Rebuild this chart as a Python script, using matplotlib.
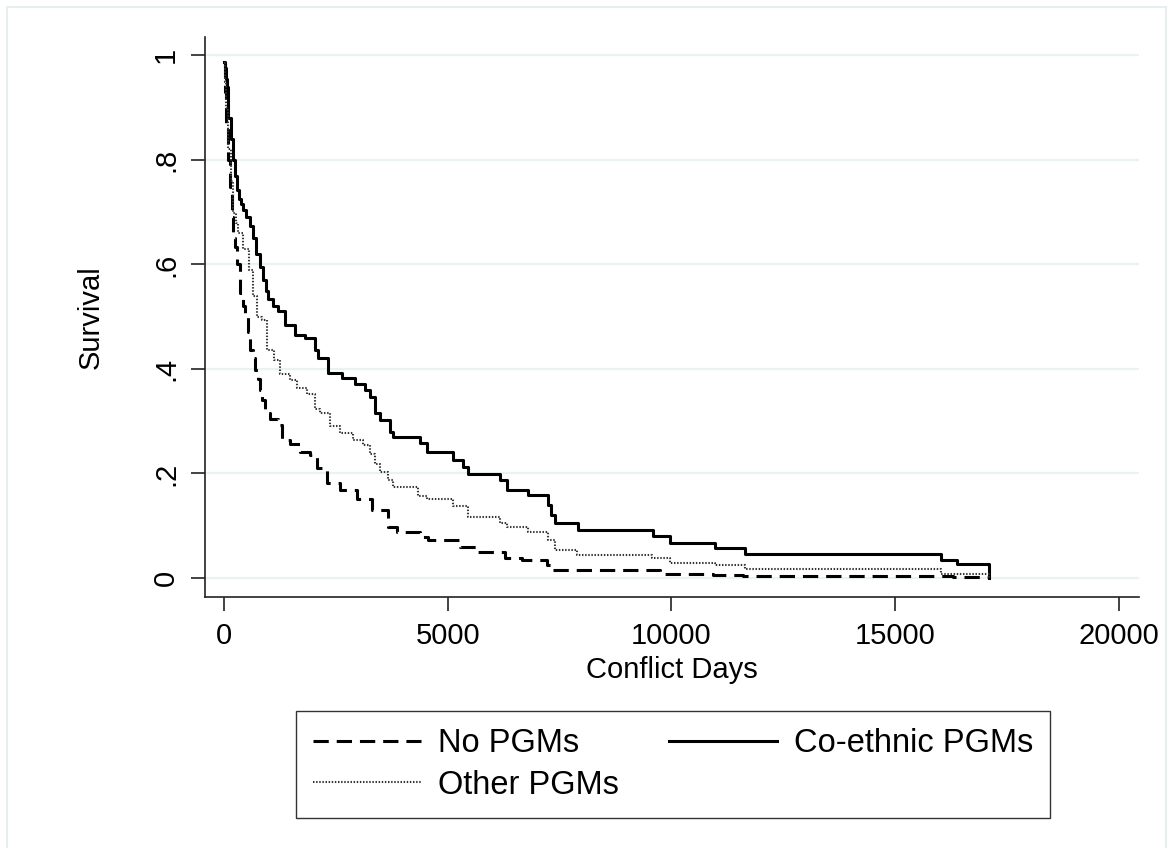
import matplotlib
matplotlib.use("Agg")
import matplotlib.pyplot as plt
from matplotlib.lines import Line2D

plt.rcParams["font.family"] = ["Liberation Sans", "DejaVu Sans"]

# Kaplan-Meier step estimates (days, survival)
no_days = [0, 20, 50, 80, 134, 170, 209, 246, 300, 358, 420, 470, 530, 581,
           640, 693, 750, 805, 860, 916, 1028, 1214, 1290, 1483, 1700, 1920,
           2070, 2300, 2600, 2966, 3300, 3673, 3860, 4381, 4560, 5275, 5648,
           6281, 6653, 7213, 7362, 9746, 10938, 11608, 16300, 17110]
no_surv = [0.985, 0.93, 0.87, 0.8, 0.748, 0.691, 0.65, 0.634, 0.6, 0.545, 0.52,
           0.5, 0.47, 0.436, 0.42, 0.398, 0.38, 0.36, 0.34, 0.315, 0.305, 0.292,
           0.264, 0.257, 0.241, 0.235, 0.21, 0.181, 0.168, 0.152, 0.13, 0.098,
           0.088, 0.078, 0.072, 0.059, 0.05, 0.039, 0.034, 0.025, 0.015, 0.0084,
           0.005, 0.003, 0.001, 0.0]

other_days = [0, 20, 50, 100, 150, 209, 260, 320, 430, 549, 640, 730, 848, 960,
              1110, 1259, 1483, 1632, 1855, 2034, 2146, 2370, 2600, 2890, 3115,
              3263, 3375, 3487, 3670, 3785, 4345, 4530, 5126, 5461, 6169, 6318,
              6803, 7250, 7399, 7884, 9561, 9970, 10975, 11645, 16020, 17110]
other_surv = [0.985, 0.95, 0.9, 0.82, 0.76, 0.698, 0.68, 0.66, 0.63, 0.589, 0.54,
              0.5, 0.494, 0.436, 0.417, 0.391, 0.378, 0.363, 0.353, 0.324, 0.315,
              0.29, 0.278, 0.264, 0.254, 0.238, 0.219, 0.203, 0.187, 0.175, 0.156,
              0.151, 0.137, 0.117, 0.105, 0.097, 0.088, 0.072, 0.053, 0.0435,
              0.038, 0.0295, 0.025, 0.0167, 0.008, 0.0]

co_days = [0, 15, 40, 60, 100, 150, 200, 240, 283, 330, 380, 432, 500, 581,
           650, 720, 805, 880, 940, 990, 1100, 1200, 1363, 1587, 1818, 2034,
           2108, 2333, 2630, 2928, 3152, 3263, 3375, 3487, 3710, 3785, 4381,
           4530, 5126, 5350, 5461, 6169, 6318, 6803, 7250, 7320, 7399, 7920,
           9582, 9970, 10975, 11645, 16020, 16390, 17110]
co_surv = [0.987, 0.975, 0.955, 0.94, 0.88, 0.84, 0.8, 0.77, 0.742, 0.725, 0.715,
           0.704, 0.69, 0.673, 0.65, 0.62, 0.596, 0.57, 0.55, 0.533, 0.52, 0.51,
           0.484, 0.465, 0.459, 0.437, 0.42, 0.392, 0.382, 0.372, 0.36, 0.347,
           0.315, 0.302, 0.28, 0.27, 0.258, 0.241, 0.225, 0.213, 0.199, 0.187,
           0.169, 0.158, 0.14, 0.12, 0.105, 0.091, 0.08, 0.066, 0.057, 0.045,
           0.035, 0.026, 0.0]

labels = ["No PGMs", "Co-ethnic PGMs", "Other PGMs"]
x_ticks = [0, 5000, 10000, 15000, 20000]
y_ticks = [0, 0.2, 0.4, 0.6, 0.8, 1.0]
y_ticklabels = ["0", ".2", ".4", ".6", ".8", "1"]

W, H = 1168, 848
fig = plt.figure(figsize=(W / 100, H / 100), dpi=100)
fig.patch.set_facecolor("white")

# faint Stata graph-region border
border = "#e6eef0"
fig.add_artist(Line2D([7 / W, 7 / W], [0, 1 - 7 / H], transform=fig.transFigure,
                      color=border, lw=1.5))
fig.add_artist(Line2D([7 / W, 1166 / W], [1 - 7 / H, 1 - 7 / H],
                      transform=fig.transFigure, color=border, lw=1.5))
fig.add_artist(Line2D([1166 / W, 1166 / W], [0, 1 - 7 / H],
                      transform=fig.transFigure, color=border, lw=1.5))

ax = fig.add_axes([205 / W, 1 - 597 / H, (1139 - 205) / W, (597 - 37) / H])
ax.set_xlim(-425, 20452)
ax.set_ylim(-0.0364, 1.0352)

for t in y_ticks:
    ax.axhline(t, color="#eaf2f3", lw=1.6, zorder=0)

ax.step(no_days, no_surv, where="post", color="black", lw=2.2,
        linestyle=(0, (5, 2.6)), label=labels[0])
ax.step(co_days, co_surv, where="post", color="black", lw=2.2,
        linestyle="-", label=labels[1])
ax.step(other_days, other_surv, where="post", color="#333333", lw=1.5,
        linestyle=(0, (0.7, 0.8)), label=labels[2])

for s in ["top", "right"]:
    ax.spines[s].set_visible(False)
for s in ["left", "bottom"]:
    ax.spines[s].set_linewidth(1.2)
    ax.spines[s].set_color("#222222")

ax.set_xticks(x_ticks)
ax.set_xticklabels([str(v) for v in x_ticks], fontsize=21)
ax.set_yticks(y_ticks)
ax.set_yticklabels(y_ticklabels, fontsize=21, rotation=90, va="center")
ax.tick_params(axis="both", length=10, width=1.2, color="#222222", pad=8)

ax.set_xlabel("Conflict Days", fontsize=21, labelpad=4)
ax.set_ylabel("Survival", fontsize=21, labelpad=34)

handles, lbls = ax.get_legend_handles_labels()
order = [0, 2, 1]
leg = fig.legend([handles[i] for i in order], [lbls[i] for i in order],
                 loc="upper left", bbox_to_anchor=(296 / W, 1 - 711 / H),
                 ncol=2, fontsize=23.5, frameon=True, fancybox=False,
                 handlelength=3.3, handletextpad=0.52, columnspacing=1.55,
                 labelspacing=0.33, borderpad=0.52, borderaxespad=0)
leg.get_frame().set_edgecolor("black")
leg.get_frame().set_linewidth(1.0)

fig.savefig("out.png", dpi=100)
